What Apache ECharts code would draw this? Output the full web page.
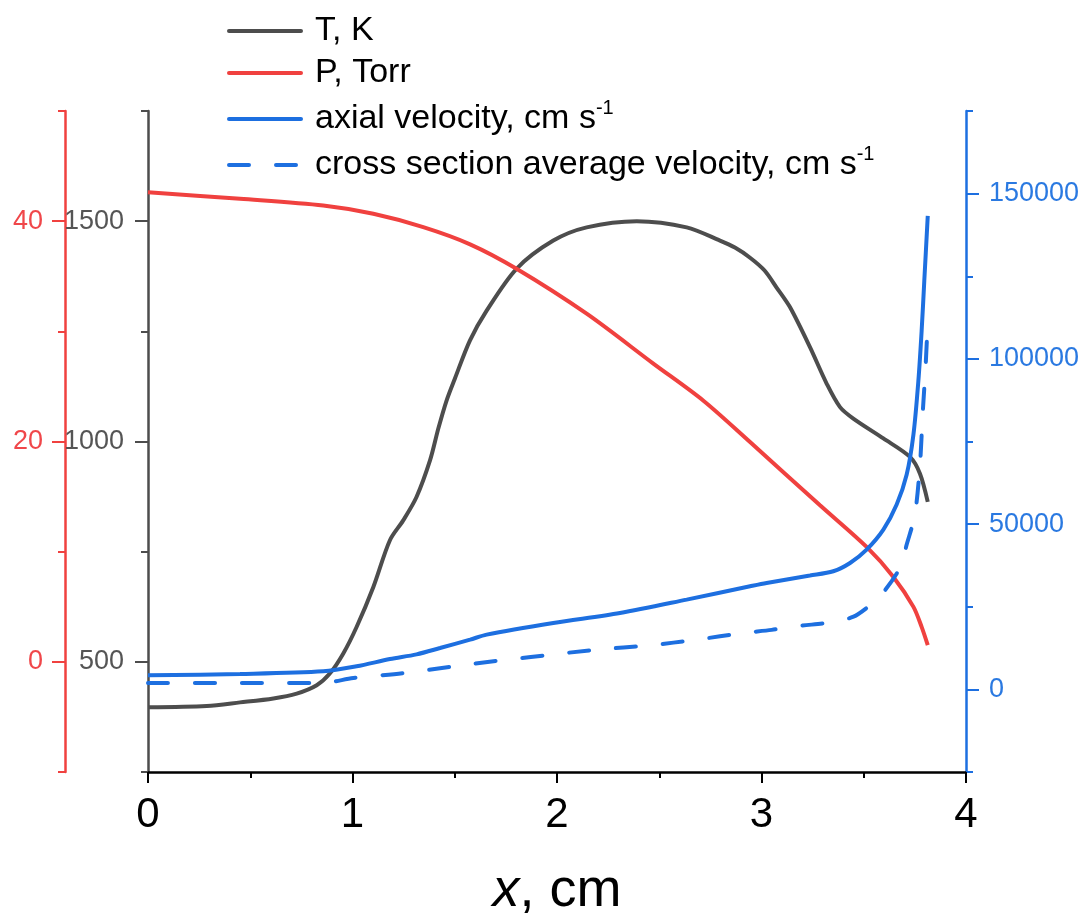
<!DOCTYPE html>
<html>
<head>
<meta charset="utf-8">
<script src="https://cdn.jsdelivr.net/npm/echarts@6/dist/echarts.min.js"></script>
<style>
  html, body { margin: 0; padding: 0; background: #fff; }
  #chart { width: 1086px; height: 914px; }
</style>
</head>
<body>
<div id="chart"></div>
<script>
// Temperature profile along the reactor axis
const xT = [0, 0.287, 0.45, 0.613, 0.727, 0.825, 0.89, 0.955, 1.02, 1.102, 1.183, 1.248, 1.313, 1.379, 1.42, 1.46, 1.50, 1.574, 1.656, 1.802, 1.982, 2.145, 2.39, 2.634, 2.797, 2.87, 2.944, 3.015, 3.073, 3.139, 3.237, 3.319, 3.384, 3.449, 3.596, 3.726, 3.775, 3.813];
const tempK = [397, 400, 408, 417, 428, 447, 474, 519, 579, 670, 776, 821, 874, 957, 1030, 1093, 1142, 1229, 1297, 1392, 1456, 1486, 1500, 1486, 1456, 1440, 1417, 1388, 1350, 1305, 1214, 1131, 1078, 1052, 1007, 965, 927, 863];

// Pressure, Torr
const xP = [0, 0.45, 0.857, 1.102, 1.346, 1.575, 1.802, 2.145, 2.471, 2.716, 2.944, 3.286, 3.514, 3.645, 3.743, 3.783, 3.813];
const pTorr = [42.63, 42.03, 41.42, 40.67, 39.46, 37.9, 35.68, 31.6, 27.07, 23.7, 19.95, 14.21, 10.43, 7.71, 4.99, 3.17, 1.51];

// Axial velocity, cm/s
const xVax = [0, 0.45, 0.857, 1.02, 1.183, 1.313, 1.428, 1.575, 1.656, 1.982, 2.308, 2.634, 2.944, 3.025, 3.237, 3.351, 3.433, 3.514, 3.596, 3.661, 3.71, 3.743, 3.767, 3.783, 3.796, 3.813];
const vAxial = [4240, 4640, 5450, 6970, 9180, 10600, 12510, 15050, 16560, 20080, 23110, 27160, 31190, 32200, 34430, 35740, 38250, 42300, 48360, 55930, 65020, 77130, 93280, 108420, 123560, 143250];

// Cross-section average velocity, cm/s
const xVavg = [0, 0.45, 0.857, 1.004, 1.248, 1.493, 1.55, 2.194, 2.455, 2.683, 2.911, 3.05, 3.123, 3.2, 3.351, 3.45, 3.514, 3.58, 3.677, 3.71, 3.75, 3.775, 3.788, 3.803, 3.813];
const vAvg = [1900, 1900, 2000, 3420, 4940, 6970, 7480, 12020, 13330, 15050, 17050, 18000, 18780, 19300, 20380, 22000, 24620, 28160, 36740, 43820, 52910, 68050, 83190, 98330, 111960];

// Tick labels
const xTicks = [0, 1, 2, 3, 4];
const tMajor = [500, 1000, 1500];
const pMajor = [0, 20, 40];
const vMajor = [0, 50000, 100000, 150000];

const pairs = (xs, ys) => xs.map((x, i) => [x, ys[i]]);

const FONT = '"Liberation Sans", Arial, Helvetica, sans-serif';
const C_T = '#4d4d4d';
const C_P = '#f0413f';
const C_V = '#1d6fe0';
const C_TL = '#555555';
const C_PL = '#f0474a';
const C_VL = '#2a79e1';

function leftAxis(color, labelColor, min, max, step, majors, offset, margin) {
  return {
    type: 'value', position: 'left', offset: offset,
    min: min, max: max, interval: step,
    axisLine: { show: true, lineStyle: { color: color, width: 2.5 } },
    axisTick: { show: true, length: 7, lineStyle: { color: color, width: 2 } },
    splitLine: { show: false },
    axisLabel: {
      color: labelColor, fontSize: 27, fontFamily: FONT, margin: margin,
      formatter: v => (majors.indexOf(v) >= 0 ? String(v) : '')
    }
  };
}

function majorTicks(color, min, max, majors, position, offset) {
  return {
    type: 'value', position: position, offset: offset,
    min: min, max: max,
    axisLine: { show: false },
    axisTick: { show: true, length: 13, customValues: majors, lineStyle: { color: color, width: 2 } },
    axisLabel: { show: false },
    splitLine: { show: false }
  };
}

const chart = echarts.init(document.getElementById('chart'), null, { renderer: 'canvas' });

const supRich = {
  t: { fontSize: 34, fontFamily: FONT, color: '#000', lineHeight: 42 },
  s: { fontSize: 20, fontFamily: FONT, color: '#000', lineHeight: 42, verticalAlign: 'top' }
};

chart.setOption({
  animation: false,
  backgroundColor: '#fff',
  grid: { left: 148, right: 120, top: 111, bottom: 142, containLabel: false, outerBoundsMode: 'none' },
  legend: {
    orient: 'vertical', left: 222, top: 9,
    itemWidth: 72, itemHeight: 2, itemGap: 8,
    data: ['T, K', 'P, Torr', 'axial velocity, cm s-1', 'cross section average velocity, cm s-1'],
    formatter: function (name) {
      if (name.endsWith('s-1')) {
        return '{t|' + name.slice(0, -2) + '}{s|-1}';
      }
      return '{t|' + name + '}';
    },
    itemStyle: { opacity: 0 },
    lineStyle: { width: 4, cap: 'round' },
    textStyle: { fontSize: 34, fontFamily: FONT, color: '#000', padding: [0, 0, 0, 9], rich: supRich }
  },
  xAxis: {
    type: 'value', min: 0, max: 4, interval: 1,
    axisLine: { show: true, onZero: false, lineStyle: { color: '#000', width: 2.5 } },
    axisTick: { show: true, length: 11, lineStyle: { color: '#000', width: 2 } },
    minorTick: { show: true, splitNumber: 2, length: 6, lineStyle: { color: '#000', width: 2 } },
    splitLine: { show: false },
    minorSplitLine: { show: false },
    axisLabel: {
      color: '#000', fontSize: 42, fontFamily: FONT, margin: 22,
      formatter: v => (xTicks.indexOf(v) >= 0 ? String(v) : '')
    },
    name: '{i|x}, cm',
    nameLocation: 'middle', nameGap: 92,
    nameTextStyle: {
      fontSize: 54, fontFamily: FONT, color: '#000',
      rich: { i: { fontSize: 54, fontFamily: FONT, fontStyle: 'italic', color: '#000' } }
    }
  },
  yAxis: [
    leftAxis(C_T, C_TL, 250, 1750, 250, tMajor, 0, 24),
    leftAxis(C_P, C_PL, -10, 50, 10, pMajor, 83, 22),
    {
      type: 'value', position: 'right', offset: 0,
      min: -25000, max: 175000, interval: 25000,
      axisLine: { show: true, lineStyle: { color: C_V, width: 2.5 } },
      axisTick: { show: true, length: 7, lineStyle: { color: C_V, width: 2 } },
      splitLine: { show: false },
      axisLabel: {
        color: C_VL, fontSize: 27, fontFamily: FONT, margin: 23,
        formatter: v => (vMajor.indexOf(v) >= 0 ? String(v) : '')
      }
    },
    majorTicks(C_T, 250, 1750, tMajor, 'left', 0),
    majorTicks(C_P, -10, 50, pMajor, 'left', 83),
    majorTicks(C_V, -25000, 175000, vMajor, 'right', 0)
  ],
  series: [
    {
      name: 'T, K', type: 'line', yAxisIndex: 0,
      data: pairs(xT, tempK), symbol: 'none', showSymbol: false,
      smooth: 0.3,
      lineStyle: { color: C_T, width: 4 }, itemStyle: { color: C_T }, z: 3
    },
    {
      name: 'P, Torr', type: 'line', yAxisIndex: 1,
      data: pairs(xP, pTorr), symbol: 'none', showSymbol: false,
      smooth: 0.3,
      lineStyle: { color: C_P, width: 4 }, itemStyle: { color: C_P }, z: 4
    },
    {
      name: 'axial velocity, cm s-1', type: 'line', yAxisIndex: 2,
      data: pairs(xVax, vAxial), symbol: 'none', showSymbol: false,
      smooth: 0.3,
      lineStyle: { color: C_V, width: 4 }, itemStyle: { color: C_V }, z: 5
    },
    {
      name: 'cross section average velocity, cm s-1', type: 'line', yAxisIndex: 2,
      data: pairs(xVavg, vAvg), symbol: 'none', showSymbol: false,
      smooth: 0.3,
      lineStyle: { color: C_V, width: 4, type: [20, 27], cap: 'round' }, itemStyle: { color: C_V }, z: 5
    }
  ]
});
</script>
</body>
</html>
